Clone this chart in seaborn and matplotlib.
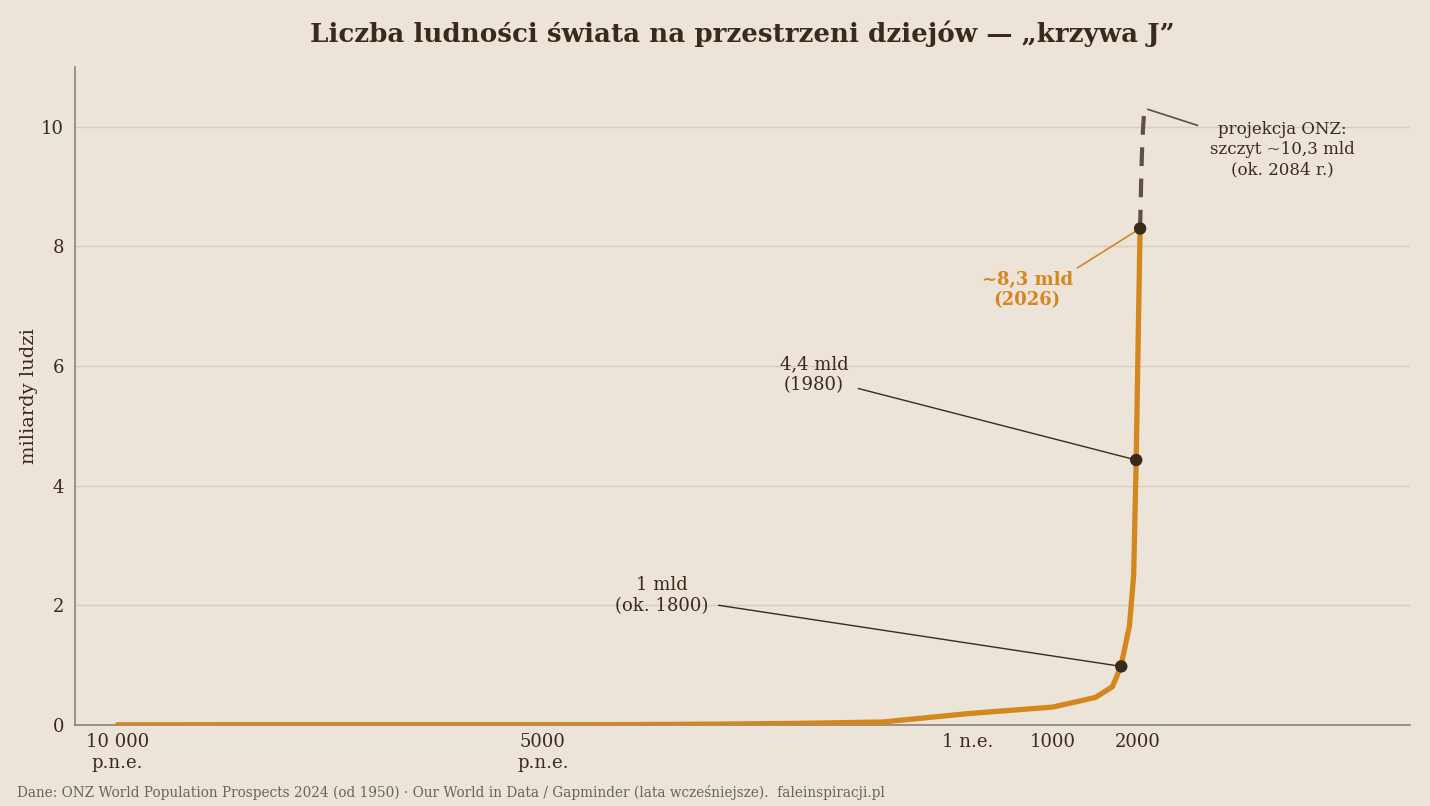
import numpy as np
import pandas as pd
import seaborn as sns
import matplotlib.pyplot as plt

# dane (mld ludzi)
years = [-10000, -8000, -6000, -5000, -4000, -3000, -2000, -1000, 0, 1000, 1500, 1700, 1800, 1900, 1950, 1980, 2000, 2020, 2026]
population = [0.004, 0.005, 0.005, 0.005, 0.007, 0.014, 0.027, 0.05, 0.19, 0.30, 0.46, 0.64, 0.98, 1.65, 2.50, 4.44, 6.15, 7.84, 8.30]

proj_years = [2026, 2040, 2050, 2060, 2070, 2084]
proj_values = [8.30, 9.19, 9.66, 9.97, 10.18, 10.29]

tick_pos = [-10000, -5000, 0, 1000, 2000]
tick_labels = ["10 000\np.n.e.", "5000\np.n.e.", "1 n.e.", "1000", "2000"]

# wyróżnione punkty
mark_years = [1804, 1980, 2026]
mark_values = [0.98, 4.43, 8.30]

BG = "#ece4d9"
ORANGE = "#d4861f"
DARK = "#3a2a1c"
GREY = "#5e5047"

sns.set_theme(style="white")
plt.rcParams["font.family"] = ["DejaVu Serif"]
plt.rcParams["text.color"] = DARK

df = pd.DataFrame({"rok": years, "ludnosc": population})
df_proj = pd.DataFrame({"rok": proj_years, "ludnosc": proj_values})
df_mark = pd.DataFrame({"rok": mark_years, "ludnosc": mark_values})

fig = plt.figure(figsize=(14.3, 8.06), dpi=100, facecolor=BG)
ax = fig.add_axes([75 / 1430, 81 / 806, 1335 / 1430, 658 / 806])
ax.set_facecolor(BG)

ax.grid(axis="y", color="#d6cbbd", linewidth=1)
ax.set_axisbelow(True)

sns.lineplot(data=df_proj, x="rok", y="ludnosc", ax=ax, color=GREY,
             linewidth=3, linestyle=(0, (4.5, 3)), zorder=3)
sns.lineplot(data=df, x="rok", y="ludnosc", ax=ax, color=ORANGE,
             linewidth=3.8, zorder=4)
sns.scatterplot(data=df_mark, x="rok", y="ludnosc", ax=ax, color=DARK,
                s=80, edgecolor="none", zorder=5)

ax.set_xlim(-10500, 5200)
ax.set_ylim(0, 11)
ax.set_xticks(tick_pos)
ax.set_xticklabels(tick_labels)
ax.set_yticks([0, 2, 4, 6, 8, 10])
ax.tick_params(axis="both", length=0, labelsize=13, colors=DARK, pad=6)
ax.tick_params(axis="y", pad=8)

for s in ["top", "right"]:
    ax.spines[s].set_visible(False)
for s in ["left", "bottom"]:
    ax.spines[s].set_color("#8c8279")
    ax.spines[s].set_linewidth(1.2)

ax.set_xlabel("")
ax.set_ylabel("miliardy ludzi", fontsize=14, color=DARK, labelpad=2)
ax.set_title("Liczba ludności świata na przestrzeni dziejów — „krzywa J”",
             fontsize=18.8, fontweight="bold", color=DARK, pad=18)

# adnotacje
ax.annotate("1 mld\n(ok. 1800)", xy=(1804, 0.98), xytext=(-3600, 2.17),
            ha="center", va="center", fontsize=13, color=DARK,
            arrowprops=dict(arrowstyle="-", color=DARK, lw=1,
                            relpos=(1, 0.28), shrinkA=5, shrinkB=4))
ax.annotate("4,4 mld\n(1980)", xy=(1980, 4.43), xytext=(-1810, 5.85),
            ha="center", va="center", fontsize=13, color=DARK,
            arrowprops=dict(arrowstyle="-", color=DARK, lw=1,
                            relpos=(1, 0.22), shrinkA=5, shrinkB=4))
ax.annotate("~8,3 mld\n(2026)", xy=(2026, 8.30), xytext=(700, 7.27),
            ha="center", va="center", fontsize=13, color=ORANGE,
            fontweight="bold",
            arrowprops=dict(arrowstyle="-", color=ORANGE, lw=1.2,
                            relpos=(1, 1), shrinkA=1, shrinkB=3))
ax.annotate("projekcja ONZ:\nszczyt ~10,3 mld\n(ok. 2084 r.)", xy=(2100, 10.3),
            xytext=(3700, 9.62), ha="center", va="center", fontsize=12,
            color=DARK, linespacing=1.25,
            arrowprops=dict(arrowstyle="-", color=GREY, lw=1.2,
                            relpos=(0, 0.85), shrinkA=7, shrinkB=1))

fig.text(17 / 1430, 1 - 792 / 806,
         "Dane: ONZ World Population Prospects 2024 (od 1950) · Our World in Data / Gapminder (lata wcześniejsze).  faleinspiracji.pl",
         fontsize=9.8, color="#6e6156", ha="left", va="center")

fig.savefig("out.png", dpi=100, facecolor=BG)
